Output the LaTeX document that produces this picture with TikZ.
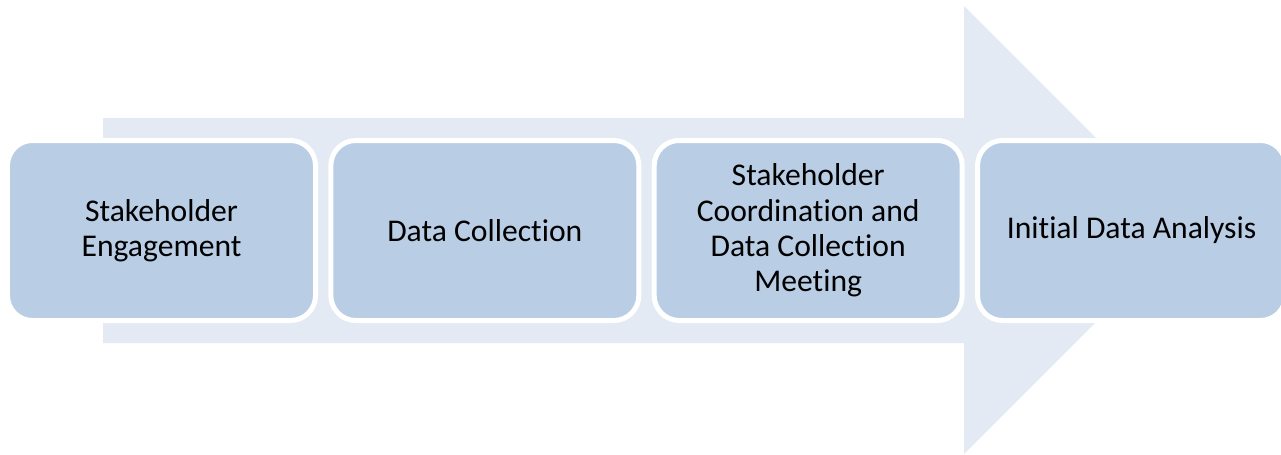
\documentclass[tikz,border=0pt]{standalone}
\usepackage{fontspec}
\setmainfont{Carlito}[Ligatures = NoCommon]
\usepackage{tkz-euclide}
\usetikzlibrary{positioning}
\definecolor{arrowfill}{RGB}{227,234,244}
\definecolor{boxfill}{RGB}{185,205,229}

\begin{document}
\begin{tikzpicture}[
    stage/.style = {rectangle, rounded corners = 0.5cm, fill = boxfill, draw = white,
        line width = 0.1cm, minimum width = 6.16cm, minimum height = 3.6cm,
        outer sep = 0pt, align = center, font = \fontsize{18}{20.1}\selectfont},
    node distance = 0.307cm]
    \useasboundingbox (0,0) rectangle (25.62,9.08);
    \tkzDefPoints{2.06/2.22/A, 19.28/2.22/B, 19.28/0/C, 23.76/4.48/D,
        19.28/8.96/E, 19.28/6.72/F, 2.06/6.72/G}
    \tkzFillPolygon[color = arrowfill](A,B,C,D,E,F,G)
    \node[stage] (S1) at (3.23,4.47) {Stakeholder\\Engagement};
    \node[stage, right = of S1] (S2) {Data Collection};
    \node[stage, right = of S2] (S3) {Stakeholder\\Coordination and\\Data Collection\\Meeting};
    \node[stage, right = of S3] (S4) {Initial Data Analysis};
\end{tikzpicture}
\end{document}
